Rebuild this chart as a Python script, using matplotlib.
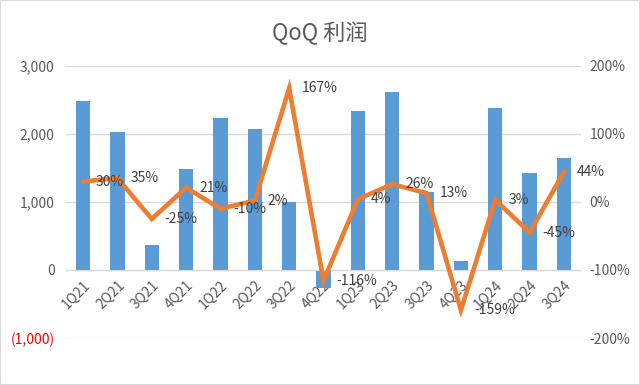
import matplotlib
matplotlib.use("Agg")
import matplotlib.pyplot as plt
from matplotlib.patches import Rectangle
from matplotlib.ticker import FuncFormatter

plt.rcParams['font.family'] = ['Noto Sans CJK SC', 'DejaVu Sans']

quarters = ['1Q21', '2Q21', '3Q21', '4Q21', '1Q22', '2Q22', '3Q22', '4Q22',
            '1Q23', '2Q23', '3Q23', '4Q23', '1Q24', '2Q24', '3Q24']
profit = [2480, 2030, 360, 1480, 2240, 2070, 1000, -265,
          2330, 2620, 1140, 130, 2380, 1425, 1640]
qoq = [30, 35, -25, 21, -10, 2, 167, -116, 4, 26, 13, -159, 3, -45, 44]

bar_color = '#5b9bd5'
line_color = '#ed7d31'
txt = '#595959'

fig = plt.figure(figsize=(6.4, 3.85), dpi=100)
ax = fig.add_axes([0.103, 0.122, 0.805, 0.707])
ax2 = ax.twinx()

x = list(range(len(quarters)))
ax.bar(x, profit, width=0.42, color=bar_color, zorder=2)
ax.set_ylim(-1000, 3000)
ax.set_yticks([-1000, 0, 1000, 2000, 3000])
ax.set_xlim(-0.5, len(quarters) - 0.5)
ax.yaxis.grid(True, color='#d9d9d9', lw=1, zorder=0)
ax.set_axisbelow(True)

def fmt_left(v, pos):
    if v < 0:
        return '({:,.0f})'.format(-v)
    return '{:,.0f}'.format(v)

ax.yaxis.set_major_formatter(FuncFormatter(fmt_left))
ax.tick_params(axis='y', length=0, labelsize=10, labelcolor=txt, pad=8)
for lab in ax.get_yticklabels():
    if lab.get_text().startswith('('):
        lab.set_color('red')

# category axis crosses at zero
ax.spines['bottom'].set_position(('data', 0))
ax.spines['bottom'].set_color('#d9d9d9')
for s in ['top', 'left', 'right']:
    ax.spines[s].set_visible(False)
ax.set_xticks(x)
ax.set_xticklabels(quarters, rotation=45, ha='right', rotation_mode='anchor',
                   fontsize=10, color=txt)
ax.tick_params(axis='x', length=0, pad=6)

ax2.plot(x, qoq, color=line_color, lw=3.3, zorder=3, solid_joinstyle='miter')
ax2.set_ylim(-200, 200)
ax2.set_yticks([-200, -100, 0, 100, 200])
ax2.yaxis.set_major_formatter(FuncFormatter(lambda v, p: '{:.0f}%'.format(v)))
ax2.tick_params(axis='y', length=0, labelsize=10, labelcolor=txt, pad=6)
for s in ax2.spines.values():
    s.set_visible(False)

for xi, v in zip(x, qoq):
    ax2.annotate('{}%'.format(v), (xi, v), xytext=(13, 0),
                 textcoords='offset pixels', ha='left', va='center',
                 fontsize=10, color='#404040', zorder=4)

fig.text(0.5, 0.912, 'QoQ 利润', ha='center', va='center', fontsize=16,
         color=txt)

fig.patches.append(Rectangle((0, 0), 1, 1, transform=fig.transFigure,
                             fill=False, edgecolor='#d9d9d9', lw=1.5))

fig.savefig('out.png', dpi=100)
